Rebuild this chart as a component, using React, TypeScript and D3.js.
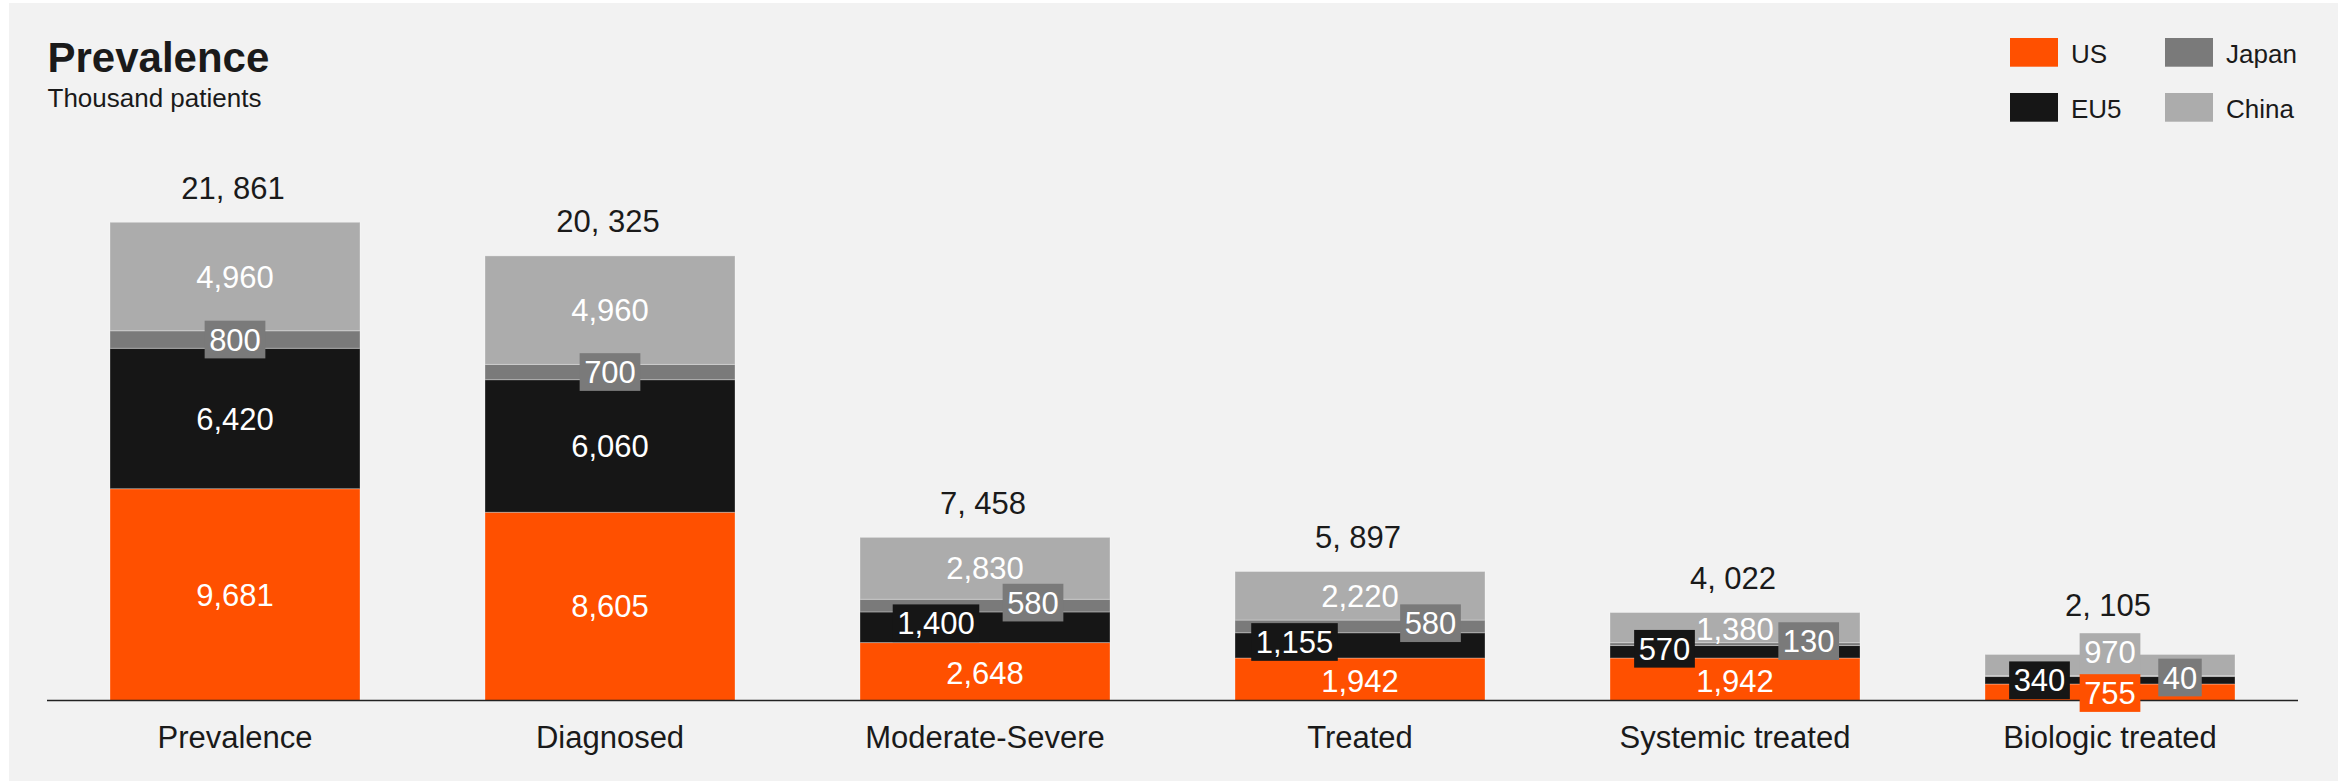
import React from "react";
import * as d3 from "d3";

const categories = ["Prevalence", "Diagnosed", "Moderate-Severe", "Treated", "Systemic treated", "Biologic treated"];
const seriesNames = ["US", "EU5", "Japan", "China"];
const usValues = [9681, 8605, 2648, 1942, 1942, 755];
const eu5Values = [6420, 6060, 1400, 1155, 570, 340];
const japanValues = [800, 700, 580, 580, 130, 40];
const chinaValues = [4960, 4960, 2830, 2220, 1380, 970];

const seriesColors: Record<string, string> = {
  US: "#ff5000",
  EU5: "#161616",
  Japan: "#7a7a7a",
  China: "#acacac",
};

// label placement (dx from bar centre, dy from segment centre, boxed)
const labelPlacement: Record<string, Record<string, [number, number, boolean]>> = {
  "Prevalence": { US: [0, 0, false], EU5: [0, 0, false], Japan: [0, 0, true], China: [0, 0, false] },
  "Diagnosed": { US: [0, 0, false], EU5: [0, 0, false], Japan: [0, 0, true], China: [0, 0, false] },
  "Moderate-Severe": { US: [0, 1.5, false], EU5: [-49, -4, true], Japan: [48, -3, true], China: [0, 0, false] },
  "Treated": { US: [0, 1.5, false], EU5: [-65.5, -3.4, true], Japan: [70.5, -3.2, true], China: [0, 0, false] },
  "Systemic treated": { US: [0, 2, false], EU5: [-70.5, -3, true], Japan: [73.7, -3, true], China: [0, 1, false] },
  "Biologic treated": { US: [0, 0.8, true], EU5: [-70.5, 0, true], Japan: [70, 1.4, true], China: [0, -13, true] },
};

const W = 2351;
const H = 784;
const FONT = "'Liberation Sans', Arial, Helvetica, sans-serif";
const TEXT = "#1a1a1a";

export default function App() {
  const rows = categories.map((c, i) => ({
    category: c,
    US: usValues[i],
    EU5: eu5Values[i],
    Japan: japanValues[i],
    China: chinaValues[i],
  }));
  const stack = d3.stack<any>().keys(seriesNames)(rows);

  const x = d3.scaleBand<string>().domain(categories).range([47, 2298]).paddingInner(1 / 3).paddingOuter(0.168);
  const y = d3.scaleLinear().domain([0, 32000]).range([700.5, 0.5]);

  const fmt = d3.format(",");
  const labelFs = 31;
  const boxH = 37.7;
  const charW = (s: string) => {
    let w = 0;
    for (const ch of s) w += ch === "," || ch === " " ? 0.278 : 0.556;
    return w * labelFs;
  };

  const bw = x.bandwidth();

  const segLabels: any[] = [];
  const topBoxes: Record<string, number> = {};
  stack.forEach((layer) => {
    const key = layer.key;
    layer.forEach((d: any, i: number) => {
      const cat = categories[i];
      const v = d[1] - d[0];
      const cx = (x(cat) as number) + bw / 2;
      const segC = (y(d[0]) + y(d[1])) / 2;
      const [dx, dy, boxed] = labelPlacement[cat][key];
      const txt = fmt(v);
      const bx = cx + dx;
      const by = segC + dy;
      const tw = charW(txt);
      if (boxed) {
        const top = by - boxH / 2;
        topBoxes[cat] = Math.min(topBoxes[cat] ?? Infinity, top);
      }
      segLabels.push({ key, cat, txt, bx, by, tw, boxed });
    });
  });

  const totals = categories.map((c, i) => usValues[i] + eu5Values[i] + japanValues[i] + chinaValues[i]);

  return (
    <svg
      width={W}
      height={H}
      style={{ position: "absolute", left: 0, top: 0, background: "#ffffff" }}
      fontFamily={FONT}
    >
      <rect x={9} y={3} width={2329} height={778} fill="#f2f2f2" />
      <text x={47.5} y={71.5} fontSize={42} fontWeight="bold" fill={TEXT}>Prevalence</text>
      <text x={47.5} y={106.5} fontSize={26} fill={TEXT}>Thousand patients</text>

      {/* legend */}
      {seriesNames.map((s, i) => {
        const col = Math.floor(i / 2);
        const row = i % 2;
        const lx = 2010 + col * 155;
        const ly = 38 + row * 55;
        return (
          <g key={s}>
            <rect x={lx} y={ly} width={48} height={28.7} fill={seriesColors[s]} />
            <text x={lx + 61} y={ly + 24.5} fontSize={26} fill={TEXT}>{s}</text>
          </g>
        );
      })}

      {/* bars */}
      {stack.map((layer) => (
        <g key={layer.key}>
          {layer.map((d: any, i: number) => (
            <rect
              key={i}
              x={x(categories[i])}
              y={y(d[1])}
              width={bw}
              height={Math.max(0, y(d[0]) - y(d[1]))}
              fill={seriesColors[layer.key]}
              stroke="#ffffff"
              strokeOpacity={0.3}
              strokeWidth={1}
            />
          ))}
        </g>
      ))}

      {/* axis line */}
      <line x1={47} x2={2298} y1={700.5} y2={700.5} stroke="#222" strokeWidth={1.5} />

      {/* segment labels */}
      {segLabels.map((l, i) => (
        <g key={i}>
          {l.boxed && (
            <rect
              x={l.bx - l.tw / 2 - 4.5}
              y={l.by - boxH / 2}
              width={l.tw + 9}
              height={boxH}
              fill={seriesColors[l.key]}
            />
          )}
          <text x={l.bx} y={l.by + labelFs * 0.358} textAnchor="middle" fontSize={labelFs} fill="#ffffff">
            {l.txt}
          </text>
        </g>
      ))}

      {/* totals */}
      {categories.map((c, i) => {
        const cx = (x(c) as number) + bw / 2;
        const barTop = y(totals[i]);
        const base = Math.min(barTop - 23.4, (topBoxes[c] ?? Infinity) - 17.7);
        return (
          <text key={c} x={cx - 2} y={base} textAnchor="middle" fontSize={31} fill={TEXT}>
            {fmt(totals[i]).replace(",", ", ")}
          </text>
        );
      })}

      {/* category labels */}
      {categories.map((c) => (
        <text
          key={c}
          x={(x(c) as number) + bw / 2}
          y={748.3}
          textAnchor="middle"
          fontSize={31}
          fill={TEXT}
        >
          {c}
        </text>
      ))}
    </svg>
  );
}
